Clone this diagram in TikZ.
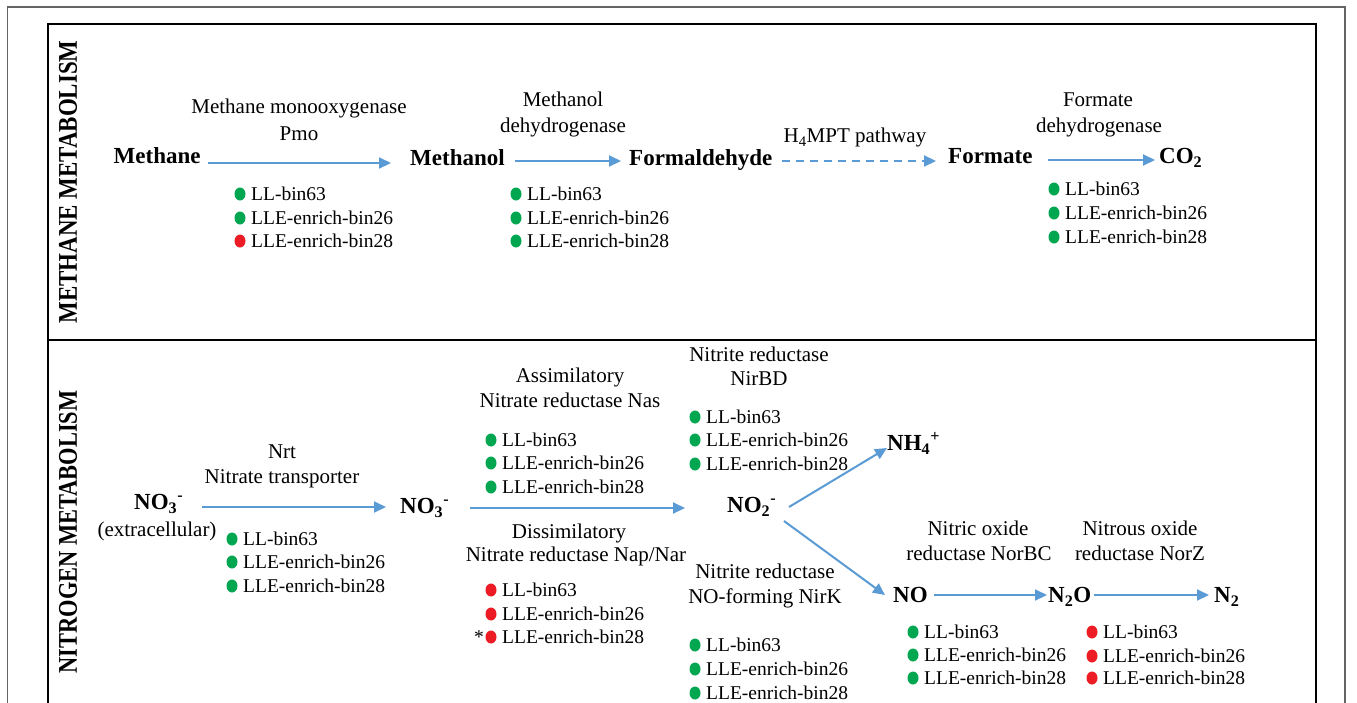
\documentclass[tikz,border=0pt]{standalone}
\usepackage{fontspec}
\setmainfont{Liberation Serif}
\usetikzlibrary{shapes.geometric,arrows.meta}
\definecolor{arrowblue}{RGB}{91,155,213}
\definecolor{dgreen}{RGB}{0,166,80}
\definecolor{dred}{RGB}{237,28,36}
\definecolor{framegray}{RGB}{100,100,100}
\tikzset{
 chem/.style={font=\fontsize{23}{27}\selectfont\bfseries, anchor=west, inner sep=0pt, text height=15.2pt, text depth=0pt},
 enz/.style={font=\fontsize{21}{25}\selectfont, inner sep=0pt, text height=13.9pt, text depth=0pt},
 bin/.style={font=\fontsize{19.5}{23}\selectfont, anchor=west, inner sep=0pt, text height=12.9pt, text depth=0pt},
 bdot/.style={ellipse, minimum width=11pt, minimum height=13pt, inner sep=0pt, draw=none},
 arr/.style={draw=arrowblue, line width=2pt, -{Triangle[length=12pt,width=11pt]}},
 darr/.style={arr, dash pattern=on 8pt off 6pt},
 paneltitle/.style={font=\fontsize{27}{31}\selectfont\bfseries, rotate=90, inner sep=0pt}
}
\newcommand{\binitem}[5]{\node[bdot,fill=#4] (#1d) at (#2,#3) {}; \node[bin] (#1) at (#2+11,#3) {#5};}
\begin{document}
\begin{tikzpicture}[x=1pt,y=-1pt]
\useasboundingbox (0,0) rectangle (1357,702);
\clip (0,0) rectangle (1357,702);
\fill[white] (0,0) rectangle (1357,702);
% frames
\draw[framegray, line width=1.5pt] (7.5,7) rectangle (1345,730);
\draw[black, line width=2pt] (48,24) rectangle (1316,730);
\draw[black, line width=2pt] (48,340) -- (1316,340);
\node[paneltitle] (t1) at (68,182) {\scalebox{0.85}[1]{METHANE METABOLISM}};
\node[paneltitle] (t2) at (68,532) {\scalebox{0.83}[1]{NITROGEN METABOLISM}};

% ---------- methane row
\node[chem] (methane) at (113.5,156) {Methane};
\node[chem] (methanol) at (410,158) {Methanol};
\node[chem] (formaldehyde) at (629,158) {Formaldehyde};
\node[chem] (formate) at (948,156) {Formate};
\node[chem] (co2) at (1159,156) {CO\textsubscript{2}};

\draw[arr] ([shift={(94.5,7)}]methane.west) -- ([shift={(-19,5)}]methanol.west);
\draw[arr] ([shift={(105,3)}]methanol.west) -- ([shift={(-8,3)}]formaldehyde.west);
\draw[darr] ([shift={(153,3)}]formaldehyde.west) -- ([shift={(-12,5)}]formate.west);
\draw[arr] ([shift={(100,4)}]formate.west) -- ([shift={(-4,4)}]co2.west);

\node[enz] (pmoA) at (299,107) {Methane monooxygenase};
\node[enz] (pmoB) at (299,134) {Pmo};
\node[enz] (mdhA) at (563,100) {Methanol};
\node[enz] (mdhB) at (563,126) {dehydrogenase};
\node[enz] (h4mpt) at (855,136) {H\textsubscript{4}MPT pathway};
\node[enz] (fdhA) at (1098,100) {Formate};
\node[enz] (fdhB) at (1099,126) {dehydrogenase};

\binitem{pmo1}{240}{194}{dgreen}{LL-bin63}
\binitem{pmo2}{240}{218}{dgreen}{LLE-enrich-bin26}
\binitem{pmo3}{240}{241}{dred}{LLE-enrich-bin28}
\binitem{mdh1}{516}{194}{dgreen}{LL-bin63}
\binitem{mdh2}{516}{218}{dgreen}{LLE-enrich-bin26}
\binitem{mdh3}{516}{241}{dgreen}{LLE-enrich-bin28}
\binitem{fdh1}{1054}{189}{dgreen}{LL-bin63}
\binitem{fdh2}{1054}{213}{dgreen}{LLE-enrich-bin26}
\binitem{fdh3}{1054}{237}{dgreen}{LLE-enrich-bin28}

% ---------- nitrogen row
\node[chem] (no3ext) at (134,502) {NO\textsubscript{3}\textsuperscript{-}};
\node[enz] (extra) at (157,530) {(extracellular)};
\node[chem] (no3) at (400,506) {NO\textsubscript{3}\textsuperscript{-}};
\node[chem] (no2) at (727,505) {NO\textsubscript{2}\textsuperscript{-}};
\node[chem] (nh4) at (887,443) {NH\textsubscript{4}\textsuperscript{+}};
\node[chem] (no) at (893,595) {NO};
\node[chem] (n2o) at (1048,595) {N\textsubscript{2}O};
\node[chem] (n2) at (1214,595) {N\textsubscript{2}};

\draw[arr] ([shift={(68,5)}]no3ext.west) -- ([shift={(-14,1)}]no3.west);
\draw[arr] ([shift={(70,2)}]no3.west) -- ([shift={(-42,3)}]no2.west);
\draw[arr] ([shift={(62,2)}]no2.west) -- ([shift={(0,5)}]nh4.west);
\draw[arr] ([shift={(57,16)}]no2.west) -- ([shift={(-8,0)}]no.west);
\draw[arr] ([shift={(41,0)}]no.west) -- ([shift={(-1,0)}]n2o.west);
\draw[arr] ([shift={(46,0)}]n2o.west) -- ([shift={(-5,0)}]n2.west);

\node[enz] (nrtA) at (282,452) {Nrt};
\node[enz] (nrtB) at (282,477) {Nitrate transporter};
\node[enz] (nasA) at (570,376) {Assimilatory};
\node[enz] (nasB) at (570,401) {Nitrate reductase Nas};
\node[enz] (napA) at (569,532) {Dissimilatory};
\node[enz] (napB) at (576,555) {Nitrate reductase Nap/Nar};
\node[enz] (nirbdA) at (759,355) {Nitrite reductase};
\node[enz] (nirbdB) at (759,379) {NirBD};
\node[enz] (nirkA) at (765,572) {Nitrite reductase};
\node[enz] (nirkB) at (765,597) {NO-forming NirK};
\node[enz] (norbcA) at (978,529) {Nitric oxide};
\node[enz] (norbcB) at (979,554) {reductase NorBC};
\node[enz] (norzA) at (1140,529) {Nitrous oxide};
\node[enz] (norzB) at (1140,554) {reductase NorZ};

\binitem{nrt1}{232}{539}{dgreen}{LL-bin63}
\binitem{nrt2}{232}{562}{dgreen}{LLE-enrich-bin26}
\binitem{nrt3}{232}{586}{dgreen}{LLE-enrich-bin28}
\binitem{nas1}{491}{440}{dgreen}{LL-bin63}
\binitem{nas2}{491}{463}{dgreen}{LLE-enrich-bin26}
\binitem{nas3}{491}{487}{dgreen}{LLE-enrich-bin28}
\binitem{nap1}{491}{590}{dred}{LL-bin63}
\binitem{nap2}{491}{614}{dred}{LLE-enrich-bin26}
\binitem{nap3}{491}{637}{dred}{LLE-enrich-bin28}
\node[bin, anchor=center] (star) at (479,637) {*};
\binitem{nirbd1}{695}{417}{dgreen}{LL-bin63}
\binitem{nirbd2}{695}{440}{dgreen}{LLE-enrich-bin26}
\binitem{nirbd3}{695}{464}{dgreen}{LLE-enrich-bin28}
\binitem{nirk1}{695}{645}{dgreen}{LL-bin63}
\binitem{nirk2}{695}{669}{dgreen}{LLE-enrich-bin26}
\binitem{nirk3}{695}{693}{dgreen}{LLE-enrich-bin28}
\binitem{norbc1}{913}{632}{dgreen}{LL-bin63}
\binitem{norbc2}{913}{655}{dgreen}{LLE-enrich-bin26}
\binitem{norbc3}{913}{678}{dgreen}{LLE-enrich-bin28}
\binitem{norz1}{1092}{632}{dred}{LL-bin63}
\binitem{norz2}{1092}{656}{dred}{LLE-enrich-bin26}
\binitem{norz3}{1092}{678}{dred}{LLE-enrich-bin28}
\end{tikzpicture}
\end{document}
